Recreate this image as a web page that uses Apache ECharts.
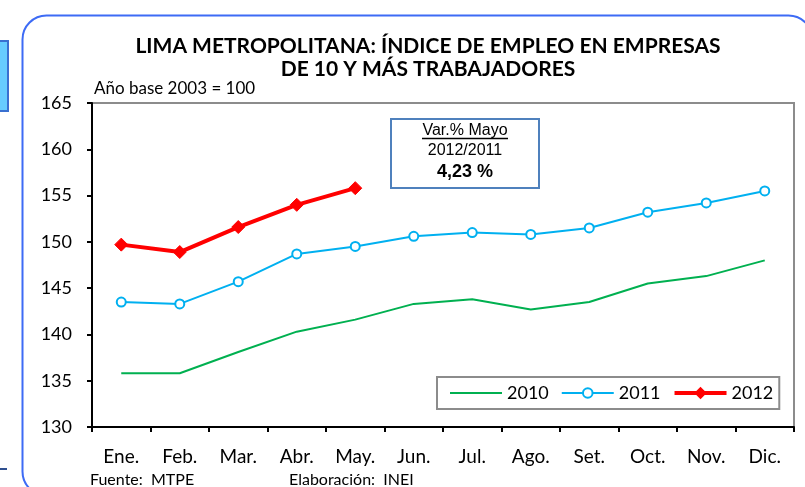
<!DOCTYPE html>
<html>
<head>
<meta charset="utf-8">
<script src="https://cdn.jsdelivr.net/npm/echarts@6/dist/echarts.min.js"></script>
<style>
  html, body { margin: 0; padding: 0; background: #fff; }
  #chart { width: 805px; height: 487px; }
</style>
</head>
<body>
<div id="chart"></div>
<script>
// Índice de empleo, Lima Metropolitana (base 2003 = 100)
const months = ['Ene.', 'Feb.', 'Mar.', 'Abr.', 'May.', 'Jun.', 'Jul.', 'Ago.', 'Set.', 'Oct.', 'Nov.', 'Dic.'];
const values2010 = [135.8, 135.8, 138.1, 140.3, 141.6, 143.3, 143.8, 142.7, 143.5, 145.5, 146.3, 148.0];
const values2011 = [143.5, 143.3, 145.7, 148.7, 149.5, 150.6, 151.0, 150.8, 151.5, 153.2, 154.2, 155.5];
const values2012 = [149.7, 148.9, 151.6, 154.0, 155.8];
const yTicks = { min: 130, max: 165, step: 5 };
const titleLines = ['LIMA METROPOLITANA: ÍNDICE DE EMPLEO EN EMPRESAS', 'DE 10 Y MÁS TRABAJADORES'];
const varNote = ['Var.% Mayo', '2012/2011', '4,23 %'];

const FONT = 'Lato, "Open Sans", sans-serif';
const BOX_FONT = '"Liberation Sans", Arial, sans-serif';
const chart = echarts.init(document.getElementById('chart'), null, { renderer: 'canvas' });

chart.setOption({
  animation: false,
  backgroundColor: '#fff',
  textStyle: { fontFamily: FONT },
  grid: {
    left: 92, right: 11, top: 103, bottom: 60,
    show: true, borderColor: '#8c8c8c', borderWidth: 2, backgroundColor: 'transparent'
  },
  title: {
    text: titleLines.join('\n'),
    left: 423, top: 30, textAlign: 'center',
    textStyle: { fontFamily: FONT, fontWeight: 'bold', fontSize: 21, color: '#000', lineHeight: 23 }
  },
  legend: {
    left: 437, top: 377,
    padding: [7, 6, 7, 12],
    borderColor: '#8c8c8c', borderWidth: 2,
    itemWidth: 52, itemHeight: 12, itemGap: 12,
    textStyle: { fontFamily: FONT, fontSize: 18, color: '#000' },
    data: [
      { name: '2010', itemStyle: { color: 'transparent', borderWidth: 0, opacity: 0 } },
      { name: '2011' },
      { name: '2012', lineStyle: { width: 4 } }
    ]
  },
  xAxis: {
    type: 'category',
    data: months,
    boundaryGap: true,
    axisLine: { lineStyle: { color: '#000', width: 2 } },
    axisTick: { show: true, length: 5, lineStyle: { color: '#000', width: 2 } },
    axisLabel: { color: '#000', fontSize: 19, fontFamily: FONT, margin: 20 },
    splitLine: { show: false }
  },
  yAxis: {
    type: 'value',
    min: yTicks.min, max: yTicks.max, interval: yTicks.step,
    axisLine: { show: true, lineStyle: { color: '#000', width: 2 } },
    axisTick: { show: true, length: 5, lineStyle: { color: '#000', width: 2 } },
    axisLabel: { color: '#000', fontSize: 18, fontFamily: FONT, margin: 20 },
    splitLine: { show: false }
  },
  series: [
    {
      name: '2010', type: 'line', data: values2010,
      symbol: 'none',
      lineStyle: { color: '#00B050', width: 2 },
      itemStyle: { color: '#00B050' }
    },
    {
      name: '2011', type: 'line', data: values2011,
      symbol: 'circle', symbolSize: 9,
      lineStyle: { color: '#00B0F0', width: 2 },
      itemStyle: { color: '#fff', borderColor: '#00B0F0', borderWidth: 2 }
    },
    {
      name: '2012', type: 'line', data: values2012,
      symbol: 'diamond', symbolSize: 13,
      lineStyle: { color: '#FF0000', width: 4 },
      itemStyle: { color: '#FF0000', borderColor: '#FF0000', borderWidth: 1 }
    }
  ],
  graphic: [
    // rounded frame around the chart
    {
      type: 'rect', left: 20, top: 13, silent: true,
      shape: { width: 790, height: 480, r: 24 },
      style: { fill: 'none', stroke: '#3D6BF5', lineWidth: 2 }
    },
    // edge decorations at the left margin
    {
      type: 'rect', left: -3, top: 40, silent: true,
      shape: { width: 10, height: 70 },
      style: { fill: '#66CCFF', stroke: '#3A70D0', lineWidth: 2 }
    },
    {
      type: 'rect', left: 0, top: 468, silent: true,
      shape: { width: 7, height: 2 },
      style: { fill: '#2F4F8F' }
    },
    // base year note
    {
      type: 'text', x: 94, y: 89,
      style: { text: 'Año base 2003 = 100', font: '17px ' + FONT, fill: '#000', verticalAlign: 'middle' }
    },
    // variation box
    {
      type: 'rect', left: 390, top: 118, silent: true,
      shape: { width: 148, height: 69 },
      style: { fill: '#fff', stroke: '#4F81BD', lineWidth: 2 }
    },
    {
      type: 'text', x: 465, y: 131,
      style: { text: varNote[0], font: '16px ' + BOX_FONT, fill: '#000', align: 'center', verticalAlign: 'middle' }
    },
    {
      type: 'line', silent: true,
      shape: { x1: 422, y1: 138.5, x2: 508, y2: 138.5 },
      style: { stroke: '#000', lineWidth: 1.5 }
    },
    {
      type: 'text', x: 465, y: 151,
      style: { text: varNote[1], font: '16px ' + BOX_FONT, fill: '#000', align: 'center', verticalAlign: 'middle' }
    },
    {
      type: 'text', x: 465, y: 172,
      style: { text: varNote[2], font: 'bold 18px ' + BOX_FONT, fill: '#000', align: 'center', verticalAlign: 'middle' }
    },
    // source footer
    {
      type: 'text', x: 90, y: 480,
      style: { text: 'Fuente:  MTPE', font: '16px ' + FONT, fill: '#000', verticalAlign: 'middle' }
    },
    {
      type: 'text', x: 289, y: 480,
      style: { text: 'Elaboración:  INEI', font: '16px ' + FONT, fill: '#000', verticalAlign: 'middle' }
    }
  ]
});
</script>
</body>
</html>
